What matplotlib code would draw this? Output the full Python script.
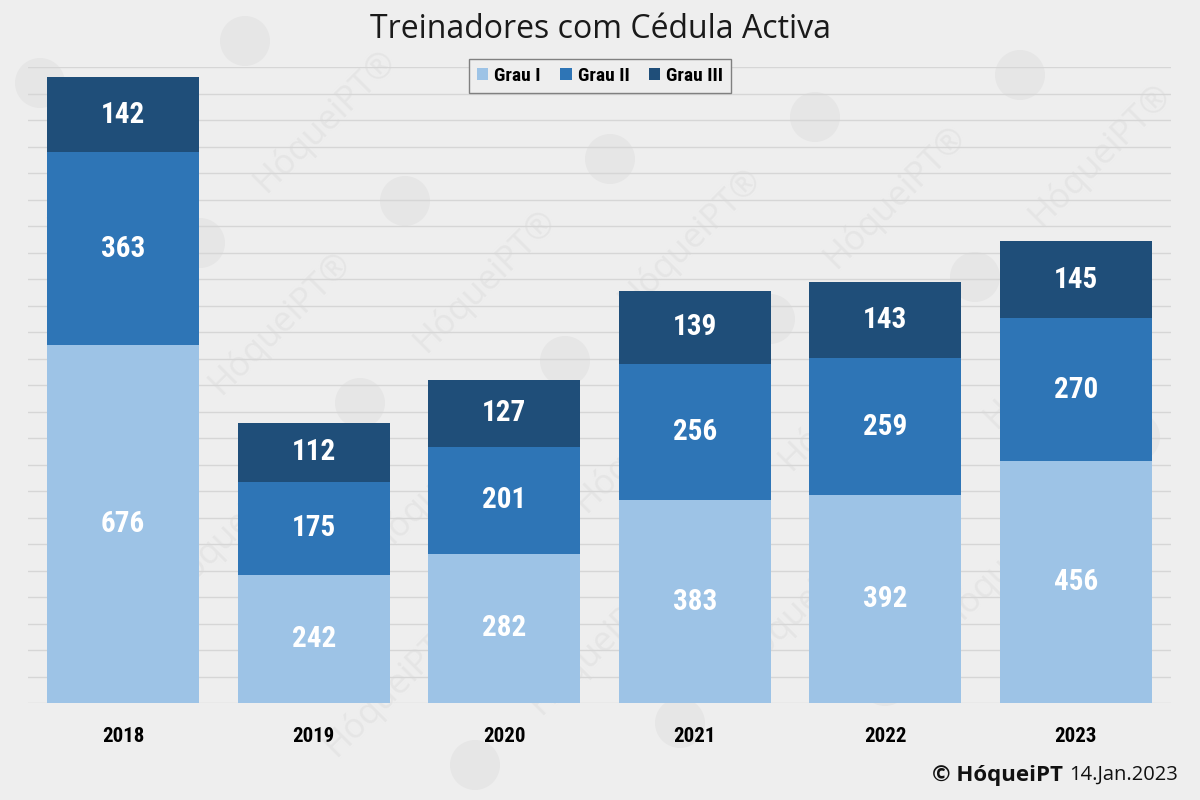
import numpy as np
import matplotlib
matplotlib.use("Agg")
import matplotlib.pyplot as plt
from matplotlib import font_manager
from matplotlib.patches import Circle

# Dados
anos = ["2018", "2019", "2020", "2021", "2022", "2023"]
grau_1 = [676, 242, 282, 383, 392, 456]
grau_2 = [363, 175, 201, 256, 259, 270]
grau_3 = [142, 112, 127, 139, 143, 145]
series_nomes = ["Grau I", "Grau II", "Grau III"]
cores = ["#9dc3e6", "#2e75b6", "#1f4e79"]

titulo = "Treinadores com Cédula Activa"

instaladas = {f.name for f in font_manager.fontManager.ttflist}
def escolhe(*nomes):
    for n in nomes:
        if n in instaladas:
            return n
    return "DejaVu Sans"

f_narrow = escolhe("Liberation Sans Narrow", "Roboto Condensed", "Open Sans Condensed", "DejaVu Sans")
f_titulo = escolhe("Open Sans", "Lato", "DejaVu Sans")
fundo = "#eeeeee"

fig = plt.figure(figsize=(12, 8), dpi=100, facecolor=fundo)
ax = fig.add_axes([0.0233, 0.12125, 0.9525, 0.795])
ax.set_facecolor("none")

# marcas de agua (atras das barras), em pixeis
a = np.array([160, 160])
b = np.array([205, -42])
for i in range(-8, 9):
    for j in range(-8, 9):
        cx, cy = np.array([200, 243]) + i * a + j * b
        if 30 < cx < 1170 and 30 < cy < 770:
            fig.patches.append(Circle((cx / 100, (800 - cy) / 100), 0.25,
                                      transform=fig.dpi_scale_trans,
                                      facecolor="#e6e6e6", edgecolor="none", zorder=-2))
        tx, ty = np.array([200, 243]) + i * a + j * b + a / 2
        if 80 < tx < 1120 and 80 < ty < 720:
            fig.text(tx / 1200, 1 - ty / 800, "HóqueiPT®", rotation=45,
                     ha="center", va="center", fontsize=25, color="#e5e5e5",
                     family=f_titulo, zorder=-1)

x = np.arange(len(anos))
base = np.zeros(len(anos))
for vals, nome, cor in zip([grau_1, grau_2, grau_3], series_nomes, cores):
    vals = np.array(vals)
    ax.bar(x, vals, 0.8, bottom=base, color=cor, label=nome, zorder=3)
    for xi, b0, v in zip(x, base, vals):
        ax.text(xi, b0 + v / 2, str(v), ha="center", va="center", color="white",
                fontsize=21, fontweight="bold", family=f_narrow, zorder=4)
    base = base + vals

ax.set_xlim(-0.5, len(anos) - 0.5)
ax.set_ylim(0, 1200)
ax.set_yticks(np.arange(0, 1201, 50))
ax.yaxis.grid(True, color="#d6d6d6", linewidth=1, zorder=0)
ax.set_axisbelow(True)
ax.tick_params(axis="y", left=False, labelleft=False)
ax.tick_params(axis="x", bottom=False, pad=14)
ax.set_xticks(x)
ax.set_xticklabels(anos, fontsize=15, fontweight="bold", family=f_narrow)
for s in ax.spines.values():
    s.set_visible(False)

leg = ax.legend(loc="center", bbox_to_anchor=(600 / 1200, 1 - 76 / 800),
                bbox_transform=fig.transFigure, ncol=3, frameon=True, fancybox=False,
                prop={"family": f_narrow, "weight": "bold", "size": 14},
                handlelength=0.6, handleheight=0.6, handletextpad=0.3, columnspacing=1.0,
                borderpad=0.4)
leg.get_frame().set_facecolor(fundo)
leg.get_frame().set_edgecolor("#808080")
leg.get_frame().set_alpha(1)
leg.set_zorder(5)

fig.text(0.5, 1 - 30 / 800, titulo, ha="center", va="center", fontsize=23,
         family=f_titulo, color="#1a1a1a")

data = fig.text(1178 / 1200, 1 - 775 / 800, "14.Jan.2023", ha="right", va="center",
                fontsize=14.5, family=f_titulo, color="#111111")
fig.canvas.draw()
bb = data.get_window_extent()
fig.text((bb.x0 - 6) / 1200, 1 - 775 / 800, "© HóqueiPT", ha="right", va="center",
         fontsize=16, fontweight="bold", family=f_titulo, color="#111111")

fig.savefig("out.png", dpi=100, facecolor=fundo)
